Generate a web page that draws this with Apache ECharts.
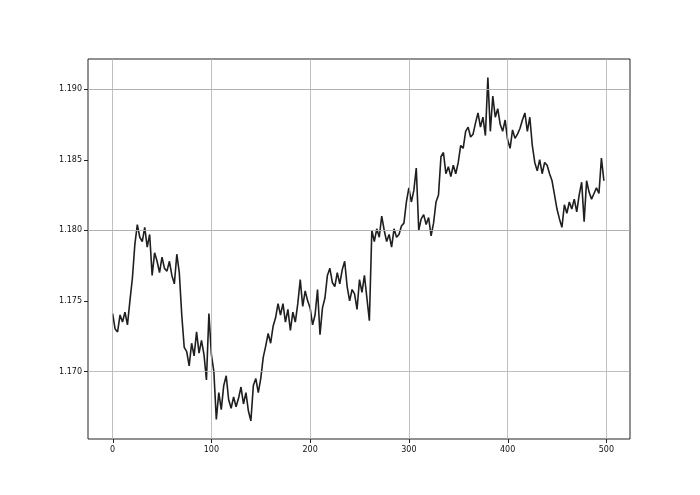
<!DOCTYPE html>
<html><head><meta charset="utf-8">
<script src="https://cdn.jsdelivr.net/npm/echarts@6/dist/echarts.min.js"></script>
<style>html,body{margin:0;padding:0;background:#fff}#c{width:700px;height:495px}</style>
</head><body><div id="c"></div>
<script>
// sample spacing (index units) between the values in `price`
const step = 2.5;
// price readings, two per 5-index block
const price = [
  1.1741, 1.1730,  1.1728, 1.1740,  1.1735, 1.1742,  1.1733, 1.1750,
  1.1766, 1.1790,  1.1804, 1.1795,  1.1792, 1.1802,  1.1788, 1.1797,
  1.1768, 1.1784,  1.1778, 1.1770,  1.1781, 1.1773,  1.1771, 1.1778,
  1.1768, 1.1762,  1.1783, 1.1770,  1.1740, 1.1717,  1.1714, 1.1704,
  1.1720, 1.1711,  1.1728, 1.1713,  1.1722, 1.1712,  1.1694, 1.1741,
  1.1712, 1.1700,  1.1666, 1.1685,  1.1673, 1.1690,  1.1697, 1.1680,
  1.1674, 1.1682,  1.1675, 1.1681,  1.1689, 1.1677,  1.1685, 1.1672,
  1.1665, 1.1690,  1.1695, 1.1685,  1.1695, 1.1710,  1.1718, 1.1727,
  1.1720, 1.1732,  1.1738, 1.1748,  1.1740, 1.1748,  1.1735, 1.1744,
  1.1729, 1.1742,  1.1735, 1.1748,  1.1765, 1.1746,  1.1757, 1.1750,
  1.1745, 1.1733,  1.1740, 1.1758,  1.1726, 1.1745,  1.1752, 1.1768,
  1.1773, 1.1763,  1.1760, 1.1770,  1.1762, 1.1772,  1.1778, 1.1760,
  1.1750, 1.1758,  1.1755, 1.1744,  1.1765, 1.1756,  1.1768, 1.1752,
  1.1736, 1.1800,  1.1792, 1.1801,  1.1795, 1.1810,  1.1800, 1.1792,
  1.1797, 1.1788,  1.1801, 1.1795,  1.1797, 1.1803,  1.1805, 1.1820,
  1.1830, 1.1820,  1.1828, 1.1844,  1.1800, 1.1808,  1.1811, 1.1804,
  1.1809, 1.1796,  1.1805, 1.1820,  1.1825, 1.1852,  1.1855, 1.1840,
  1.1845, 1.1838,  1.1846, 1.1840,  1.1848, 1.1860,  1.1858, 1.1870,
  1.1873, 1.1866,  1.1868, 1.1876,  1.1883, 1.1873,  1.1880, 1.1867,
  1.1908, 1.1870,  1.1895, 1.1880,  1.1886, 1.1875,  1.1870, 1.1878,
  1.1864, 1.1858,  1.1871, 1.1865,  1.1868, 1.1872,  1.1878, 1.1883,
  1.1870, 1.1880,  1.1860, 1.1848,  1.1842, 1.1850,  1.1840, 1.1848,
  1.1846, 1.1840,  1.1835, 1.1825,  1.1815, 1.1808,  1.1802, 1.1818,
  1.1812, 1.1820,  1.1815, 1.1822,  1.1813, 1.1825,  1.1834, 1.1806,
  1.1835, 1.1827,  1.1822, 1.1826,  1.1830, 1.1826,  1.1851, 1.1835
];
const xTicks = [0, 100, 200, 300, 400, 500];
const yTicks = [1.170, 1.175, 1.180, 1.185, 1.190];

const data = price.map((v, i) => [i * step, v]);
const chart = echarts.init(document.getElementById('c'));
const font = 'DejaVu Sans';
const tickLen = 4;
const labelStyle = {color: '#111', fontFamily: font, fontSize: 8};

function tickSeries(values, horizontal) {
  return {
    type: 'custom', silent: true, clip: false, z: 4,
    data: values.map(v => horizontal ? [v, yTicks[0]] : [xTicks[0], v]),
    renderItem: (params, api) => {
      const cs = params.coordSys;
      const p = api.coord([api.value(0), api.value(1)]);
      let shape;
      if (horizontal) {
        const x = Math.round(p[0]) + 0.5;
        shape = {x1: x, x2: x, y1: cs.y + cs.height, y2: cs.y + cs.height + tickLen};
      } else {
        const y = Math.round(p[1]) + 0.5;
        shape = {x1: cs.x, x2: cs.x - tickLen, y1: y, y2: y};
      }
      return {type: 'line', shape, style: {stroke: '#222', lineWidth: 1}};
    }
  };
}

chart.setOption({
  animation: false,
  backgroundColor: '#fff',
  grid: {left: 88, right: 70, top: 59, bottom: 56, show: true, borderColor: '#222', borderWidth: 1, backgroundColor: 'transparent'},
  xAxis: {
    type: 'value', min: -24.95, max: 523.95,
    axisLine: {show: false, onZero: false},
    axisTick: {show: false},
    axisLabel: Object.assign({customValues: xTicks, margin: 7}, labelStyle),
    splitLine: {show: false}
  },
  yAxis: {
    type: 'value', min: 1.16522, max: 1.19212,
    axisLine: {show: false, onZero: false},
    axisTick: {show: false},
    axisLabel: Object.assign({customValues: yTicks, margin: 6, formatter: v => v.toFixed(3)}, labelStyle),
    splitLine: {show: false}
  },
  series: [
    {
      type: 'line', data: [], silent: true, z: 1,
      markLine: {
        silent: true, symbol: 'none', animation: false,
        label: {show: false},
        lineStyle: {color: '#b0b0b0', width: 0.8, type: 'solid'},
        data: xTicks.map(x => ({xAxis: x})).concat(yTicks.map(y => ({yAxis: y})))
      }
    },
    tickSeries(xTicks, true),
    tickSeries(yTicks, false),
    {
      type: 'line', data: data, showSymbol: false, z: 3,
      lineStyle: {color: '#1f1f1f', width: 1.6},
      emphasis: {disabled: true}
    }
  ]
});
</script>
</body></html>
